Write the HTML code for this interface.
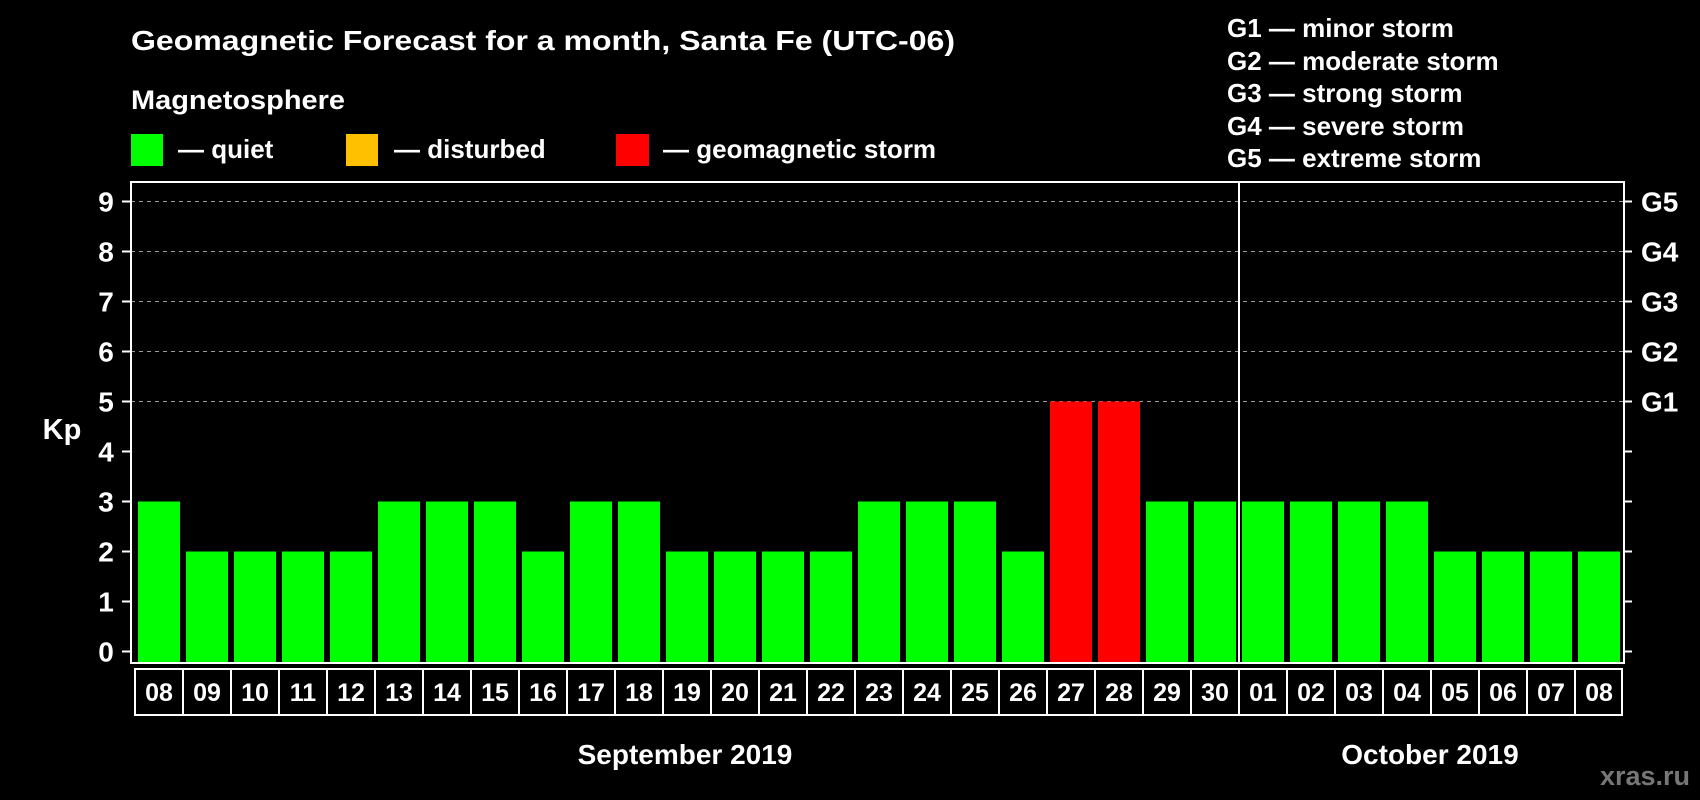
<!DOCTYPE html>
<html><head><meta charset="utf-8"><style>
html,body{margin:0;padding:0;background:#000;}
svg{display:block;font-family:"Liberation Sans",Arial,sans-serif;font-weight:bold;}
</style></head><body>
<svg width="1700" height="800" viewBox="0 0 1700 800">
<rect x="0" y="0" width="1700" height="800" fill="#000"/>
<text x="131" y="50" fill="#fff" font-size="28" textLength="824" lengthAdjust="spacingAndGlyphs">Geomagnetic Forecast for a month, Santa Fe (UTC-06)</text>
<text x="131" y="109" fill="#fff" font-size="27" textLength="214" lengthAdjust="spacingAndGlyphs">Magnetosphere</text>
<g><rect x="131" y="134" width="32" height="32" fill="#00ff00"/><text x="178" y="158" fill="#fff" font-size="26">— quiet</text></g>
<g><rect x="346" y="134" width="32" height="32" fill="#ffc000"/><text x="394" y="158" fill="#fff" font-size="26">— disturbed</text></g>
<g><rect x="616" y="134" width="33" height="32" fill="#ff0000"/><text x="663" y="158" fill="#fff" font-size="26">— geomagnetic storm</text></g>
<g fill="#fff" font-size="26">
<text x="1227" y="37">G1 — minor storm</text>
<text x="1227" y="70">G2 — moderate storm</text>
<text x="1227" y="102">G3 — strong storm</text>
<text x="1227" y="135">G4 — severe storm</text>
<text x="1227" y="167">G5 — extreme storm</text>
</g>
<text x="62" y="439" fill="#fff" font-size="29" text-anchor="middle">Kp</text>
<g id="grid"></g>
<g id="bars"></g>
<rect x="131" y="182" width="1493" height="481" fill="none" stroke="#fff" stroke-width="2"/>
<line x1="1239" y1="182" x2="1239" y2="663" stroke="#fff" stroke-width="2"/>
<g id="ticks"></g>
<g id="dates"></g>
<text x="685" y="764" fill="#fff" font-size="28" text-anchor="middle">September 2019</text>
<text x="1430" y="764" fill="#fff" font-size="28" text-anchor="middle">October 2019</text>
<text x="1690" y="785" fill="#777" font-size="27" text-anchor="end">xras.ru</text>
</svg>
<script>
const days = ["08","09","10","11","12","13","14","15","16","17","18","19","20","21","22","23","24","25","26","27","28","29","30","01","02","03","04","05","06","07","08"];
const kpValues = [3,2,2,2,2,3,3,3,2,3,3,2,2,2,2,3,3,3,2,5,5,3,3,3,3,3,3,2,2,2,2];
const yTicks = [0,1,2,3,4,5,6,7,8,9];
const gLabels = ["G1","G2","G3","G4","G5"];
const NS="http://www.w3.org/2000/svg";
function y(v){return 651.5 - v*50;}
function xb(i){return 138 + i*48;}
function mk(t,a,p){const e=document.createElementNS(NS,t);for(const k in a)e.setAttribute(k,a[k]);p.appendChild(e);return e;}
const grid=document.getElementById('grid'),bars=document.getElementById('bars'),ticks=document.getElementById('ticks'),dates=document.getElementById('dates');
yTicks.forEach(v=>{
  if(v>=5){const l=mk('line',{x1:131,x2:1624,y1:y(v),y2:y(v),stroke:'#999','stroke-dasharray':'4,4','stroke-width':1},grid);
  
  }
  mk('line',{x1:122,x2:131,y1:y(v),y2:y(v),stroke:'#fff','stroke-width':2},ticks);
  mk('line',{x1:1624,x2:1632,y1:y(v),y2:y(v),stroke:'#fff','stroke-width':2},ticks);
  const t=mk('text',{x:106,y:y(v)+10,fill:'#fff','font-size':28,'text-anchor':'middle'},ticks);
  t.textContent=v;
  
  
});
gLabels.forEach((g,i)=>{
  const t=mk('text',{x:1641,y:y(5+i)+10,fill:'#fff','font-size':28},ticks);
  t.textContent=g;
  
  
});
kpValues.forEach((v,i)=>{
  const c=v>=5?'#ff0000':(v===4?'#ffc000':'#00ff00');
  const r=mk('rect',{x:xb(i),y:y(v),width:42,height:663-y(v),fill:c},bars);
  
  
});
mk('rect',{x:135,y:669,width:1487,height:46,fill:'none',stroke:'#fff','stroke-width':2},dates);
days.forEach((d,i)=>{
  if(i>0)mk('line',{x1:xb(i)-3,x2:xb(i)-3,y1:669,y2:715,stroke:'#fff','stroke-width':2},dates);
  const t=mk('text',{x:xb(i)+21,y:701,fill:'#fff','font-size':25,'text-anchor':'middle'},dates);
  t.textContent=d;
  
  
});
</script>
</body></html>
